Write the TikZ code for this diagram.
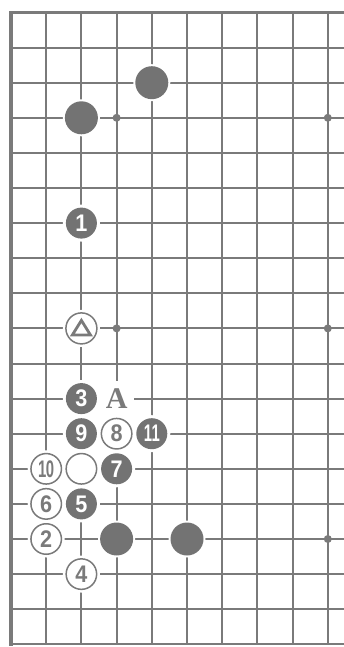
\documentclass[tikz,border=0pt]{standalone}
\usepackage{fontspec}
\setmainfont{Liberation Sans}
\newfontfamily\serifA{Liberation Serif}
\usepackage{graphicx}
\definecolor{ink}{HTML}{7A7A7A}
\definecolor{stone}{HTML}{737373}
\tikzset{
  gridline/.style={draw=ink, line width=2pt},
  border/.style={draw=ink, line width=3.5pt},
  halo/.style={circle, fill=white, inner sep=0pt, minimum size=37pt},
  bstone/.style={circle, fill=stone, inner sep=0pt, minimum size=33pt},
  bnum/.style={circle, fill=stone, inner sep=0pt, minimum size=31pt, text=white,
     font=\bfseries\fontsize{24}{24}\selectfont},
  wnum/.style={circle, fill=white, draw=ink, line width=1.5pt, inner sep=0pt, minimum size=30.5pt, text=ink,
     font=\bfseries\fontsize{24}{24}\selectfont},
  starpt/.style={circle, fill=ink, inner sep=0pt, minimum size=8pt},
}
\newcommand{\nn}[1]{\scalebox{0.9}[1]{#1}}
\newcommand{\nnn}[2]{\scalebox{0.62}[1]{#1\kern-1pt#2}}
\begin{document}
\begin{tikzpicture}
\useasboundingbox (0pt,0pt) rectangle (344pt,-647pt);
\fill[white] (0pt,0pt) rectangle (344pt,-647pt);
\begin{scope}[shift={(11pt,-12.5pt)}, x=35.2pt, y=-35.1pt]
  % grid
  \foreach \c in {1,...,9} \draw[gridline] (\c,0) -- (\c,18);
  \foreach \r in {1,...,18} \draw[gridline] (0,\r) -- (9.47,\r);
  \draw[border] (9.47,0) -- (0,0) -- (0,18.05);
  % star points
  \foreach \c/\r [count=\i] in {3/3,9/3,3/9,9/9,9/15}
    \node[starpt] (s\i) at (\c,\r) {};
  % halos
  \foreach \c/\r in {4/2,2/3,3/15,5/15,2/6,2/11,2/12,4/12,3/13,2/14,3/12,1/13,1/14,1/15,2/16,2/13,2/9}
    \node[halo] at (\c,\r) {};
  \node[fill=white, inner sep=0pt, minimum width=34pt, minimum height=36pt] at (3,11) {};
  % black stones
  \node[bstone] (b1) at (4,2) {};
  \node[bstone] (b2) at (2,3) {};
  \node[bstone] (b3) at (3,15) {};
  \node[bstone] (b4) at (5,15) {};
  % numbered black
  \node[bnum] (m1) at (2,6) {\nn{1}};
  \node[bnum] (m3) at (2,11) {\nn{3}};
  \node[bnum] (m9) at (2,12) {\nn{9}};
  \node[bnum] (m11) at (4,12) {\nnn{1}{1}};
  \node[bnum] (m7) at (3,13) {\nn{7}};
  \node[bnum] (m5) at (2,14) {\nn{5}};
  % numbered white
  \node[wnum] (m8) at (3,12) {\nn{8}};
  \node[wnum] (m10) at (1,13) {\nnn{1}{0}};
  \node[wnum] (m6) at (1,14) {\nn{6}};
  \node[wnum] (m2) at (1,15) {\nn{2}};
  \node[wnum] (m4) at (2,16) {\nn{4}};
  % plain white
  \node[wnum] (w1) at (2,13) {};
  % triangle stone
  \node[wnum, minimum size=31pt] (tri) at (2,9) {};
  \draw[ink, line width=2.8pt, line join=miter] ([shift={(0pt,8pt)}]tri.center) -- ([shift={(-9pt,-6.5pt)}]tri.center) -- ([shift={(9pt,-6.5pt)}]tri.center) -- cycle;
  % label A
  \node[text=ink, font=\serifA\bfseries\fontsize{30}{30}\selectfont, inner sep=0pt] (A) at (3,11) {A};
\end{scope}
\end{tikzpicture}
\end{document}
